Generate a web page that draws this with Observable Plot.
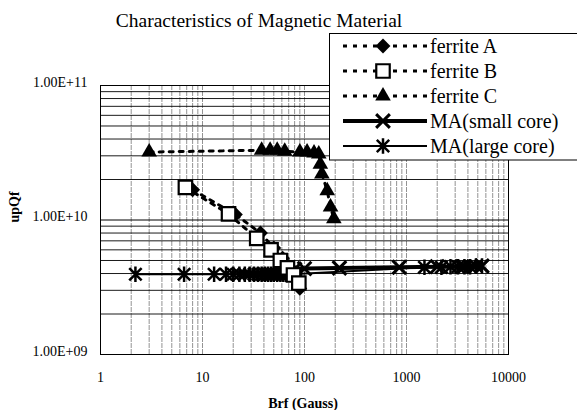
<!DOCTYPE html>
<html>
<head>
<meta charset="utf-8">
<script src="https://cdn.jsdelivr.net/npm/d3@7"></script>
<script src="https://cdn.jsdelivr.net/npm/@observablehq/plot@0.6"></script>
<style>
  html, body { margin: 0; padding: 0; background: #fff; }
  #chart { width: 577px; height: 410px; }
</style>
</head>
<body>
<div id="chart"></div>
<script>
// ---- data ----
const ferriteA_x = [8, 21, 37, 50, 61, 71, 80, 90];
const ferriteA_y = [1.68e10, 1.1e10, 8.0e9, 6.2e9, 5.2e9, 4.5e9, 4.0e9, 3.1e9];

const ferriteB_x = [6.8, 18, 34, 47, 58, 68, 78, 88];
const ferriteB_y = [1.75e10, 1.11e10, 7.3e9, 6.0e9, 5.0e9, 4.4e9, 3.9e9, 3.4e9];

const ferriteC_x = [3, 38, 46, 54, 64, 90, 106, 124, 138, 143, 148, 167, 180, 194];
const ferriteC_y = [3.2e10, 3.3e10, 3.3e10, 3.3e10, 3.25e10, 3.2e10, 3.2e10, 3.15e10, 3.1e10, 2.6e10, 2.2e10, 1.65e10, 1.25e10, 1.02e10];

const maSmall_x = [80, 100, 220, 850, 2000, 3500, 5500];
const maSmall_y = [4.3e9, 4.35e9, 4.4e9, 4.45e9, 4.5e9, 4.5e9, 4.55e9];

const maLarge_x = [2.2, 6.6, 13, 17, 20, 23, 26, 29, 32, 35, 38, 41, 44, 47, 50, 54, 58, 62, 66, 70, 75, 1500, 2200, 2700, 3200, 3700, 4200, 4800, 5500];
const maLarge_y = [3.95e9, 3.95e9, 3.95e9, 3.95e9, 3.95e9, 3.95e9, 3.95e9, 3.95e9, 3.95e9, 3.95e9, 3.95e9, 3.95e9, 3.95e9, 3.95e9, 3.95e9, 3.95e9, 3.95e9, 3.95e9, 3.95e9, 3.95e9, 3.95e9, 4.45e9, 4.45e9, 4.5e9, 4.5e9, 4.5e9, 4.5e9, 4.55e9, 4.55e9];

const xTicks = [1, 10, 100, 1000, 10000];
const yTicks = [1e9, 1e10, 1e11];
const yTickLabels = ["1.00E+09", "1.00E+10", "1.00E+11"];

const seriesNames = ["ferrite A", "ferrite B", "ferrite C", "MA(small core)", "MA(large core)"];
const titleText = "Characteristics of Magnetic Material";
const xTitle = "Brf (Gauss)";
const yTitle = "upQf";

// ---- helpers ----
const toRows = (xs, ys) => xs.map((x, i) => ({x, y: ys[i]}));
const minor = (lo, hi) => {
  const out = [];
  for (let e = lo; e < hi; e++) for (let m = 2; m <= 9; m++) out.push(m * Math.pow(10, e));
  return out;
};
const xMinor = minor(0, 4);
const yMinor = minor(9, 11);

const asterisk = {
  draw(ctx, size) {
    const r = Math.sqrt(size) * 0.5;
    ctx.moveTo(-r, -r); ctx.lineTo(r, r);
    ctx.moveTo(-r, r); ctx.lineTo(r, -r);
    ctx.moveTo(0, -r * 1.25); ctx.lineTo(0, r * 1.25);
  }
};
const rhombus = {
  draw(ctx, size) {
    const r = Math.sqrt(size) * 0.6;
    ctx.moveTo(0, -r); ctx.lineTo(r, 0); ctx.lineTo(0, r); ctx.lineTo(-r, 0); ctx.closePath();
  }
};

const A = toRows(ferriteA_x, ferriteA_y);
const B = toRows(ferriteB_x, ferriteB_y);
const C = toRows(ferriteC_x, ferriteC_y);
const S = toRows(maSmall_x, maSmall_y);
const L = toRows(maLarge_x, maLarge_y);

const font = "'Liberation Serif', 'Times New Roman', serif";
const dash = "4,6";

const plot = Plot.plot({
  width: 577,
  height: 410,
  marginLeft: 100,
  marginRight: 69,
  marginTop: 85,
  marginBottom: 56,
  style: {fontFamily: font, fontSize: "14px", color: "#000", background: "#fff"},
  x: {type: "log", domain: [1, 10000]},
  y: {type: "log", domain: [1e9, 1e11]},
  marks: [
    Plot.ruleX(xMinor, {stroke: "#777", strokeWidth: 0.8, strokeDasharray: "5,1"}),
    Plot.ruleX(xTicks, {stroke: "#777", strokeWidth: 0.8, strokeDasharray: "5,1"}),
    Plot.ruleY(yMinor, {stroke: "#000", strokeWidth: 0.9}),
    Plot.ruleY(yTicks, {stroke: "#000", strokeWidth: 1}),
    Plot.frame({stroke: "#000", strokeWidth: 1}),
    Plot.axisX({ticks: xTicks, tickFormat: d => String(d), tickSize: 0, tickPadding: 18, label: null, fontSize: 14}),
    Plot.axisY({ticks: yTicks, tickFormat: d => yTickLabels[yTicks.indexOf(d)], tickSize: 0, tickPadding: 13, dy: -3, label: null, fontSize: 14}),
    // MA (large core)
    Plot.line(L, {x: "x", y: "y", stroke: "#000", strokeWidth: 2}),
    Plot.dot(L, {x: "x", y: "y", symbol: asterisk, r: 7, stroke: "#000", strokeWidth: 2.5, fill: "none"}),
    // MA (small core)
    Plot.line(S, {x: "x", y: "y", stroke: "#000", strokeWidth: 4}),
    Plot.dot(S, {x: "x", y: "y", symbol: "times", r: 6.3, stroke: "#000", strokeWidth: 3}),
    // ferrite A
    Plot.line(A, {x: "x", y: "y", stroke: "#000", strokeWidth: 3, strokeDasharray: dash}),
    Plot.dot(A, {x: "x", y: "y", symbol: rhombus, r: 7, fill: "#000"}),
    // ferrite B
    Plot.line(B, {x: "x", y: "y", stroke: "#000", strokeWidth: 3, strokeDasharray: dash}),
    Plot.dot(B, {x: "x", y: "y", symbol: "square", r: 7.6, fill: "#fff", stroke: "#000", strokeWidth: 2.2}),
    // ferrite C
    Plot.line(C, {x: "x", y: "y", stroke: "#000", strokeWidth: 3, strokeDasharray: dash}),
    Plot.dot(C, {x: "x", y: "y", symbol: "triangle", r: 5.8, fill: "#000"})
  ]
});

document.getElementById("chart").appendChild(plot);

// ---- title, axis titles, legend ----
const svg = d3.select(plot);
svg.append("text").attr("x", 259).attr("y", 27).attr("text-anchor", "middle")
  .attr("font-family", font).attr("font-size", 19.5).text(titleText);
svg.append("text").attr("x", 303).attr("y", 408).attr("text-anchor", "middle")
  .attr("font-family", font).attr("font-size", 14).attr("font-weight", "bold").text(xTitle);
svg.append("text").attr("transform", "translate(19,207) rotate(-90)").attr("text-anchor", "middle")
  .attr("font-family", font).attr("font-size", 14).attr("font-weight", "bold").text(yTitle);

const lg = svg.append("g");
lg.append("rect").attr("x", 329.5).attr("y", 33.5).attr("width", 260).attr("height", 126.5)
  .attr("fill", "#fff").attr("stroke", "#000").attr("stroke-width", 1);
const rowY = [46, 71, 96, 121, 146];
const symPaths = [
  d3.symbol(rhombus, Math.PI * 7 * 7)(),
  d3.symbol(d3.symbolSquare, Math.PI * 7.6 * 7.6)(),
  d3.symbol(d3.symbolTriangle, Math.PI * 5.8 * 5.8)(),
  d3.symbol(d3.symbolTimes, Math.PI * 6.3 * 6.3)(),
  d3.symbol(asterisk, Math.PI * 7 * 7)()
];
seriesNames.forEach((name, i) => {
  const g = lg.append("g").attr("transform", `translate(0,${rowY[i]})`);
  const ln = g.append("line").attr("x1", 343).attr("x2", 427).attr("y1", 0).attr("y2", 0).attr("stroke", "#000");
  if (i < 3) ln.attr("stroke-width", 3).attr("stroke-dasharray", dash);
  else if (i === 3) ln.attr("stroke-width", 4);
  else ln.attr("stroke-width", 2);
  const p = g.append("path").attr("d", symPaths[i]).attr("transform", "translate(383,0)");
  if (i === 1) p.attr("fill", "#fff").attr("stroke", "#000").attr("stroke-width", 2.2);
  else if (i >= 3) p.attr("fill", "none").attr("stroke", "#000").attr("stroke-width", i === 3 ? 3 : 2.5);
  else p.attr("fill", "#000");
  g.append("text").attr("x", 430).attr("y", 0).attr("dy", "0.35em").attr("text-anchor", "start")
    .attr("font-family", font).attr("font-size", 20).text(name);
});
</script>
</body>
</html>
